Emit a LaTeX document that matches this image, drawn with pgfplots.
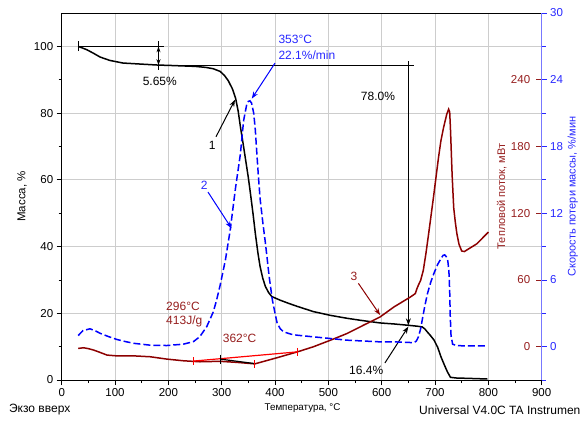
\documentclass[border=0pt]{standalone}
\usepackage{fontspec}
\setmainfont{Liberation Sans}
\usepackage{pgfplots}
\usepackage{pgfplotstable}
\pgfplotsset{compat=1.18}
\usetikzlibrary{arrows.meta}
\definecolor{dred}{RGB}{140,0,0}
\definecolor{tred}{RGB}{150,30,30}
\definecolor{bl}{RGB}{0,0,255}
\definecolor{tbl}{RGB}{40,40,255}
\definecolor{axbl}{RGB}{120,120,255}
\definecolor{gridc}{RGB}{205,205,205}
\definecolor{brred}{RGB}{255,0,0}
\newcommand\tickfont{\fontsize{11.5}{13}\selectfont}
\newcommand\annfont{\fontsize{12}{14}\selectfont}
\newcommand\smfont{\fontsize{9.8}{11}\selectfont}

\pgfplotstableread{
T m
31 100.0
47 99.0
60 97.9
72 96.8
90 95.8
115 95.0
147 94.7
180 94.4
200 94.3
250 94.0
270 93.7
284 93.3
297 92.5
305 91.3
312 89.8
320 87.3
326 84.5
331 80.5
335 76.0
340 71.0
345 65.8
350 60.6
354 55.8
359 49.5
363 44.0
368 38.0
372 34.0
377 30.5
382 28.0
388 26.2
394 25.0
410 23.9
425 23.0
441 22.1
472 20.5
503 19.4
535 18.5
560 17.9
597 17.1
623 16.8
650 16.4
668 16.1
676 15.9
681 15.3
685 14.5
691 13.4
698 12.0
705 9.8
711 7.0
717 4.7
723 2.5
729 0.8
740 0.6
770 0.45
798 0.3
}\massdata

\pgfplotstableread{
T r
31 1.0
40 1.45
53 1.6
62 1.45
72 1.2
88 0.9
103 0.65
120 0.45
135 0.3
166 0.13
197 0.1
228 0.22
247 0.45
259 0.9
272 1.8
284 3.1
290 4.1
297 5.5
307 7.8
316 10.5
326 14.3
335 17.3
341 20.3
347 21.8
350 22.05
353 22.1
356 21.9
360 21.0
363 19.5
366 17.3
369 15.2
372 13.3
377 11.2
382 9.3
389 6.3
395 4.2
400 3.0
404 2.1
410 1.6
416 1.33
430 1.12
441 1.03
472 0.88
504 0.73
535 0.58
597 0.43
622 0.43
650 0.38
660 0.35
665 0.5
669 0.9
673 1.6
676 2.4
681 3.7
686 4.8
692 5.8
698 6.6
705 7.4
711 7.9
715 8.2
718 8.25
721 8.1
724 7.7
726 6.8
727.5 5.0
728.5 2.8
730 1.0
733 0.22
740 0.1
748 0.08
798 0.07
}\ratedata

\pgfplotstableread{
T h
31 -1.6
41 -1.0
50 -1.8
60 -3.1
72 -5.2
85 -7.6
103 -8.3
135 -8.3
166 -9.1
197 -11.2
228 -12.7
259 -13.6
297 -13.2
330 -14.2
362 -15.5
402 -10.2
442 -4.7
472 -0.1
504 5.8
535 11.8
566 19.3
597 26.7
623 35.7
654 44.7
663 47.7
666 52
669 55.5
673 59.6
678 68.6
683 84
688 101.5
697 134
706.5 170
711 185
716 197
722 209
725.5 213.5
727.5 211
729 195
732 155
735 125
738 112
741 101.5
745 92
750 86
755 85.5
760 87
778.5 92.5
800 103
}\hfdata

\pgfplotsset{
  base/.style={
    width=480pt, height=367pt, scale only axis,
    at={(61.7pt,41pt)}, anchor=south west,
    xmin=0, xmax=900,
    /pgf/number format/assume math mode=true,
    ticklabel style={font=\tickfont},
  },
}
\tikzset{arr/.style={line width=1pt, -{Stealth[length=7pt,width=5pt]}}}

\begin{document}
\begin{tikzpicture}
\path[use as bounding box] (0,0) rectangle (581pt,421pt);

% ---- mass axis ----
\begin{axis}[base,
  ymin=0, ymax=110,
  axis line style={black, line width=0.8pt},
  xtick={0,100,...,900}, minor xtick={50,150,...,850},
  ytick={0,20,...,100}, minor ytick={10,30,...,90},
  tick pos=left, tick align=outside,
  major tick length=5pt, minor tick length=3pt,
  tick style={black, line width=0.8pt},
  xmajorgrids, ymajorgrids,
  major grid style={gridc, line width=0.8pt},
  xlabel={Температура, °C},
  xlabel style={font=\smfont, at={(axis description cs:0.5017,-0.0763)}, anchor=center},
  ylabel={Масса, \%},
  ylabel style={font=\tickfont, at={(axis description cs:-0.0827,0.5)}, anchor=center},
]
\addplot[black, line width=1.5pt] table[x=T, y=m] {\massdata};
% construction lines
\draw[line width=0.8pt] (axis cs:31,100) -- (axis cs:191,100);
\draw[line width=0.8pt] (axis cs:31,98.6) -- (axis cs:31,101.5);
\draw[line width=0.8pt] (axis cs:181.5,101.5) -- (axis cs:181.5,93);
\draw[line width=0.8pt, {Stealth[length=6pt,width=4pt]}-{Stealth[length=6pt,width=4pt]}] (axis cs:181.5,100) -- (axis cs:181.5,94.35);
\draw[line width=0.8pt] (axis cs:181.5,94.35) -- (axis cs:660,94.35);
\draw[line width=0.8pt] (axis cs:645,94.35) -- (axis cs:655,94.35);
\draw[line width=0.8pt, -{Stealth[length=7pt,width=5pt]}] (axis cs:650,95.5) -- (axis cs:650,16.4);
\node[font=\annfont] at (axis cs:184,89.4) {5.65\%};
\node[font=\annfont] at (axis cs:593,84.9) {78.0\%};
\node[font=\annfont] at (axis cs:282,70.2) {1};
\draw[arr] (axis cs:289.3,72.9) -- (axis cs:325,84);
\node[font=\annfont] at (axis cs:571,2.8) {16.4\%};
\draw[arr] (axis cs:606,5.1) -- (axis cs:650,16.0);
\end{axis}

% ---- heat flow axis ----
\begin{axis}[base,
  ymin=-30, ymax=300,
  hide x axis, axis y line*=right,
  y axis line style={draw=none},
  ytick={0,60,...,240},
  tick align=inside, major tick length=6pt,
  ytick style={tred, line width=0.8pt},
  yticklabel style={font=\tickfont, text=tred, anchor=east, xshift=-8pt},
  ylabel={Тепловой поток, мВт},
  ylabel style={font=\fontsize{11}{13}\selectfont, text=tred, at={(axis description cs:0.9167,0.5)}, anchor=center},
]
\addplot[dred, line width=1.5pt] table[x=T, y=h] {\hfdata};
\addplot[brred, line width=1.2pt] coordinates {(246.5,-13) (442,-4.7)};
\addplot[brred, line width=1pt, only marks, mark=|, mark size=4pt] coordinates {(246.5,-13) (362,-15.5) (442,-4.7)};
\addplot[black, line width=1.2pt] coordinates {(297,-11.2) (363,-15.3)};
\addplot[black, line width=1pt, only marks, mark=|, mark size=4.5pt] coordinates {(297,-11.2)};
\node[font=\annfont, text=tred, anchor=west] at (axis cs:189.4,36.5) {296°C};
\node[font=\annfont, text=tred, anchor=west] at (axis cs:189.4,22.4) {413J/g};
\node[font=\annfont, text=tred, anchor=west] at (axis cs:295.5,7.5) {362°C};
\node[font=\annfont, text=tred] at (axis cs:548,62.9) {3};
\draw[arr, dred] (axis cs:556.3,56.9) -- (axis cs:597,28.4);
\end{axis}

% ---- rate axis ----
\begin{axis}[base,
  ymin=-3, ymax=30,
  hide x axis, axis y line*=right,
  y axis line style={axbl, line width=1.2pt},
  ytick={0,6,...,30}, minor ytick={-3,3,...,27},
  tick align=outside, major tick length=5pt, minor tick length=4pt,
  ytick style={tbl, line width=0.8pt},
  yticklabel style={font=\tickfont, text=tbl},
  ylabel={Скорость потери массы, \%/мин},
  ylabel style={font=\fontsize{11}{13}\selectfont, text=tbl, at={(axis description cs:1.065,0.5)}, anchor=center},
]
\addplot[bl, line width=1.5pt, dash pattern=on 7pt off 3pt] table[x=T, y=r] {\ratedata};
\node[font=\annfont, text=tbl, anchor=west] at (axis cs:400,27.6) {353°C};
\node[font=\annfont, text=tbl, anchor=west] at (axis cs:400,26.2) {22.1\%/min};
\draw[arr, bl] (axis cs:400,25.5) -- (axis cs:356.4,22.3);
\node[font=\annfont, text=tbl] at (axis cs:267,14.5) {2};
\draw[arr, bl] (axis cs:274.3,13.9) -- (axis cs:318.4,10.64);
\end{axis}

\node[font=\annfont] at (39.7pt,11pt) {Экзо вверх};
\node[font=\annfont, anchor=west, inner sep=0pt] at (419pt,11pt) {Universal V4.0C TA Instrumen};
\end{tikzpicture}
\end{document}
